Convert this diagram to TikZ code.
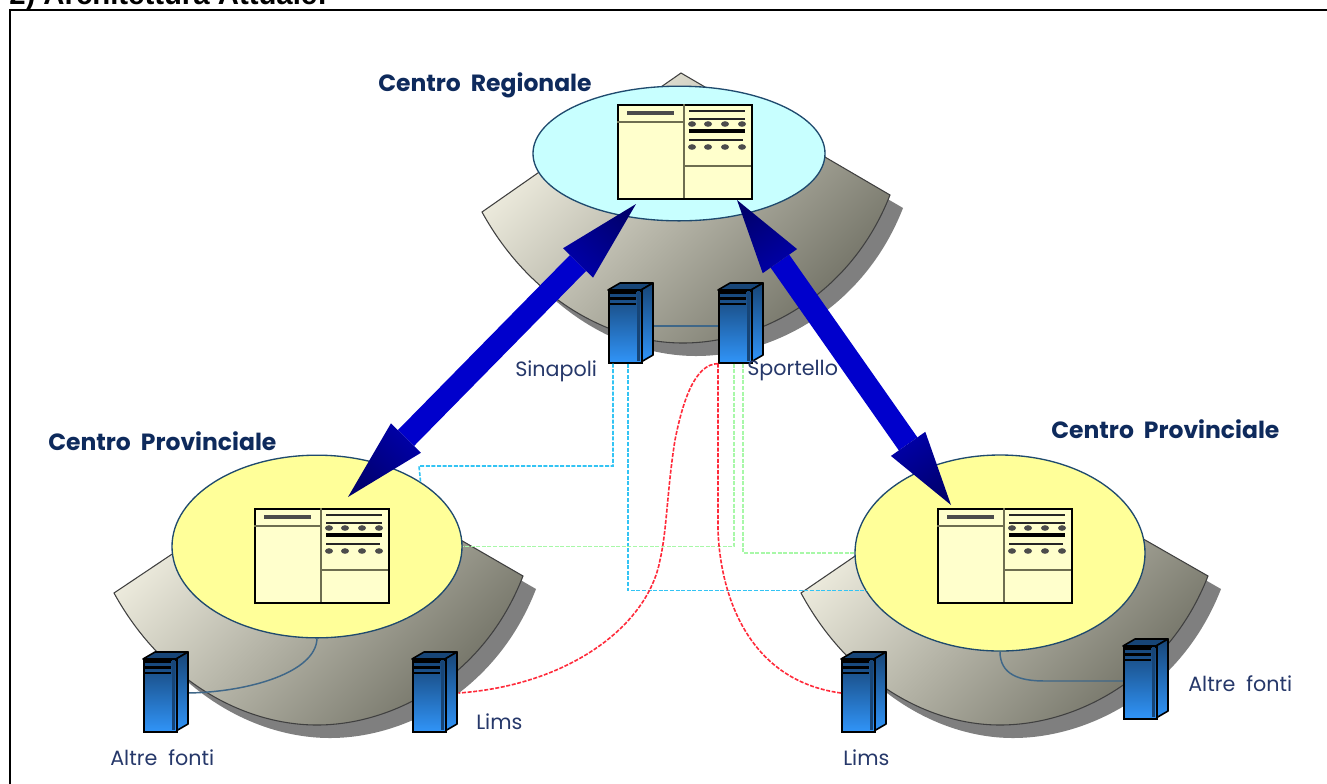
\documentclass[tikz,border=0pt]{standalone}
\usepackage{fontspec}
\usetikzlibrary{calc,shapes.geometric}
\newfontfamily\lblfont[WordSpace=2]{Poppins}
\newfontfamily\ttlfont{Liberation Sans}
\definecolor{platL}{HTML}{F6F4E6}
\definecolor{platD}{HTML}{737367}
\definecolor{shad}{HTML}{7F7F7F}
\definecolor{cyanov}{HTML}{C8FFFF}
\definecolor{yelov}{HTML}{FFFF99}
\definecolor{ovline}{HTML}{1F4A6E}
\definecolor{winfill}{HTML}{FFFFCC}
\definecolor{winline}{HTML}{6E6E50}
\definecolor{srvD}{HTML}{174577}
\definecolor{srvM}{HTML}{2A80DC}
\definecolor{srvL}{HTML}{3094F8}
\definecolor{wblue}{HTML}{33C4F4}
\definecolor{wgreen}{HTML}{A8F8A8}
\definecolor{wred}{HTML}{FF2A3A}
\definecolor{wlink}{HTML}{3F6788}
\definecolor{shaftc}{HTML}{0000CC}
\definecolor{headD}{HTML}{00006E}
\definecolor{headL}{HTML}{0000A8}
\definecolor{lbl}{HTML}{26386A}
\definecolor{hdg}{HTML}{0E2A5C}
\tikzset{
  plat/.style={draw=black!75,line width=0.8pt,top color=platL,bottom color=platD,shading angle=45},
  ovalc/.style={ellipse,draw=ovline,line width=1pt,fill=#1,inner sep=0pt},
  winbox/.style={rectangle,anchor=north west,draw=black,line width=1.3pt,fill=winfill,minimum width=100.5pt,minimum height=70.5pt,inner sep=0pt},
  winl/.style={draw=winline,line width=1.8pt},
  winb/.style={draw=black!85,line width=1.7pt},
  srvbox/.style={rectangle,anchor=north west,draw=black,line width=1.2pt,top color=srvD,middle color=srvM,bottom color=srvL,minimum width=24.75pt,minimum height=54pt,inner sep=0pt},
  srvside/.style={draw=black,line width=1.2pt,top color=srvD,middle color=srvM,bottom color=srvL,line join=round},
  wiredash/.style={dash pattern=on 3pt off 1.2pt,line width=1.2pt},
  wireB/.style={wiredash,draw=wblue},
  wireG/.style={wiredash,draw=wgreen},
  wireR/.style={wiredash,draw=wred},
  wlinks/.style={draw=wlink,line width=1.1pt},
  lab/.style={inner sep=0pt,text=lbl,font=\lblfont\fontsize{15.5}{15.5}\selectfont},
  hlab/.style={inner sep=0pt,text=hdg,font=\lblfont\bfseries\fontsize{17.6}{18}\selectfont},
}
% platform: apex, left corner, right corner, bottom
\newcommand{\platpath}[8]{(#1,#2) -- (#3,#4) .. controls ({#3+0.24*(#7-#3)},{#4+0.67*(#8-#4)}) and ({#7-0.36*(#7-#3)},#8) .. (#7,#8) .. controls ({#7+0.37*(#5-#7)},#8) and ({#5-0.19*(#5-#7)},{#6+0.68*(#8-#6)}) .. (#5,#6) -- cycle}
\newcommand{\platform}[8]{%
  \fill[shad] [shift={(13,13)}] \platpath{#1}{#2}{#3}{#4}{#5}{#6}{#7}{#8};
  \path[plat] \platpath{#1}{#2}{#3}{#4}{#5}{#6}{#7}{#8};
}
\newcommand{\winicon}[3]{%
  \node[winbox] (#1) at (#2,#3) {};
  \begin{scope}[shift={(#2,#3)}]
    \draw[winl] (67,0) -- (67,94);
    \draw[winl] (0,18) -- (67,18);
    \draw[winl] (67,62) -- (134,62);
    \draw[draw=black!70,line width=3pt] (10,9) -- (57,9);
    \draw[winb] (72,7) -- (128,7);
    \draw[winb] (72,15) -- (128,15);
    \draw[draw=black,line width=2.4pt] (72,27) -- (128,27);
    \draw[winb] (72,36) -- (126,36);
    \foreach \dy in {20,43} \foreach \dx in {75,91,108,125}
      \fill[black!70] (\dx,\dy) ellipse (3pt and 2.1pt);
  \end{scope}
}
\newcommand{\server}[3]{%
  \fill[srvD] (#2,#3) -- ({#2+12},{#3-7}) -- ({#2+45},{#3-7}) -- ({#2+33},#3) -- cycle;
  \draw[black,line width=1.2pt,line join=round] (#2,#3) -- ({#2+12},{#3-7}) -- ({#2+45},{#3-7}) -- ({#2+33},#3) -- cycle;
  \path[srvside] ({#2+33},#3) -- ({#2+45},{#3-7}) -- ({#2+45},{#3+65}) -- ({#2+33},{#3+72}) -- cycle;
  \node[srvbox] (#1) at (#2,#3) {};
  \draw[srvD,line width=1.7pt] ({#2+30.5},{#3+1}) -- ({#2+30.5},{#3+71});
  \foreach \dy in {3,8.5,14}
    \draw[black,line width=1.7pt] ({#2+2},{#3+\dy}) -- ({#2+28},{#3+\dy});
}
\newcommand{\bigarrow}[5]{%
  \coordinate (hA) at ($(#1)!#3!(#2)$);
  \coordinate (hB) at ($(#2)!#3!(#1)$);
  \fill[shaftc] ($(hA)!8.5pt!90:(#2)$) -- ($(hA)!8.5pt!-90:(#2)$) -- ($(hB)!8.5pt!90:(#1)$) -- ($(hB)!8.5pt!-90:(#1)$) -- cycle;
  \path[top color=headD,bottom color=headL,shading angle=#4] (#1) -- ($(hA)!15.75pt!90:(#2)$) -- ($(hA)!15.75pt!-90:(#2)$) -- cycle;
  \path[top color=headD,bottom color=headL,shading angle=#5] (#2) -- ($(hB)!15.75pt!90:(#1)$) -- ($(hB)!15.75pt!-90:(#1)$) -- cycle;
}
\begin{document}
\begin{tikzpicture}[x=0.75pt,y=-0.75pt]
\useasboundingbox (0,0) rectangle (1327,783);
\clip (0,0) rectangle (1327,783);
\fill[white] (0,0) rectangle (1327,783);
\node[anchor=base west,inner sep=0pt,font=\ttlfont\bfseries\fontsize{22}{22}\selectfont] (title) at (9,4) {2) Architettura Attuale:};
\draw[black,line width=1.7pt] (10,1000) -- (10,10) -- (1500,10);
% platforms
\platform{681}{73}{482}{212}{890}{195}{683}{343}
\platform{317}{457}{114}{593}{523}{576}{317}{725}
\platform{1000}{457}{801}{593}{1208}{576}{1000}{725}
% ovals
\node[ovalc=cyanov,minimum width=219pt,minimum height=101pt] (ovalC) at (679,153.5) {};
\node[ovalc=yelov,minimum width=217.5pt,minimum height=137pt] (ovalL) at (317,546.5) {};
\node[ovalc=yelov,minimum width=217.5pt,minimum height=147pt] (ovalR) at (1000,553) {};
% windows
\winicon{winC}{617}{104}
\winicon{winL}{254}{508}
\winicon{winR}{937}{508}
% links under the servers
\draw[wlinks,line width=1.6pt] (653,326) -- (718,326);
\draw[wlinks] (ovalL.south) .. controls (316,672) and (250,692) .. (188,693);
\draw[wlinks] (ovalR.south) .. controls (1000,675) and (1020,681) .. (1045,681) -- (1123,681);
% servers
\server{srvSin}{608}{290}
\server{srvSpo}{718}{290}
\server{srvAL}{143}{659}
\server{srvLL}{412}{659}
\server{srvLR}{841}{659}
\server{srvAR}{1123}{646}
% dashed connectors
\draw[wireB] ($(srvSin.south west)+(5,0)$) -- (613,466) -- (419,466) -- (ovalL.32.5);
\draw[wireB] ($(srvSin.south west)+(20,0)$) -- (628,590.5) -- (866,590.5);
\draw[wireG] ($(srvSpo.south west)+(16,0)$) |- (ovalL.east);
\draw[wireG] ($(srvSpo.south west)+(25,0)$) |- (ovalR.west);
\draw[wireR] (srvSpo.south west) .. controls (695,364) and (683,400) .. (675,440) .. controls (667,490) and (667,530) .. (660,560) .. controls (648,625) and (570,685) .. ($(srvLL.north east)+(12,34)$);
\draw[wireR] (srvSpo.south west) -- (718,530) .. controls (720,590) and (745,680) .. ($(srvLR.north west)+(0,34)$);
% big arrows
\coordinate (aC1) at (636,204);
\coordinate (aL) at (348,497);
\coordinate (aC2) at (737,200);
\coordinate (aR) at (951,505);
\bigarrow{aC1}{aL}{62pt}{-45}{135}
\bigarrow{aC2}{aR}{56pt}{35}{-145}
% labels
\node[hlab,anchor=west] (tC) at (378,85) {Centro Regionale};
\node[hlab,anchor=west] (tL) at (48,441) {Centro Provinciale};
\node[hlab,anchor=west] (tR) at (1051,429) {Centro Provinciale};
\node[lab,anchor=west] (lSin) at (515,371) {Sinapoli};
\node[lab,anchor=west] (lSpo) at (747,371) {Sportello};
\node[lab,anchor=west] (lLL) at (476,722) {Lims};
\node[lab,anchor=west] (lAL) at (110,758) {Altre fonti};
\node[lab,anchor=west] (lLR) at (843,758) {Lims};
\node[lab,anchor=west] (lAR) at (1188,684) {Altre fonti};
\end{tikzpicture}
\end{document}
